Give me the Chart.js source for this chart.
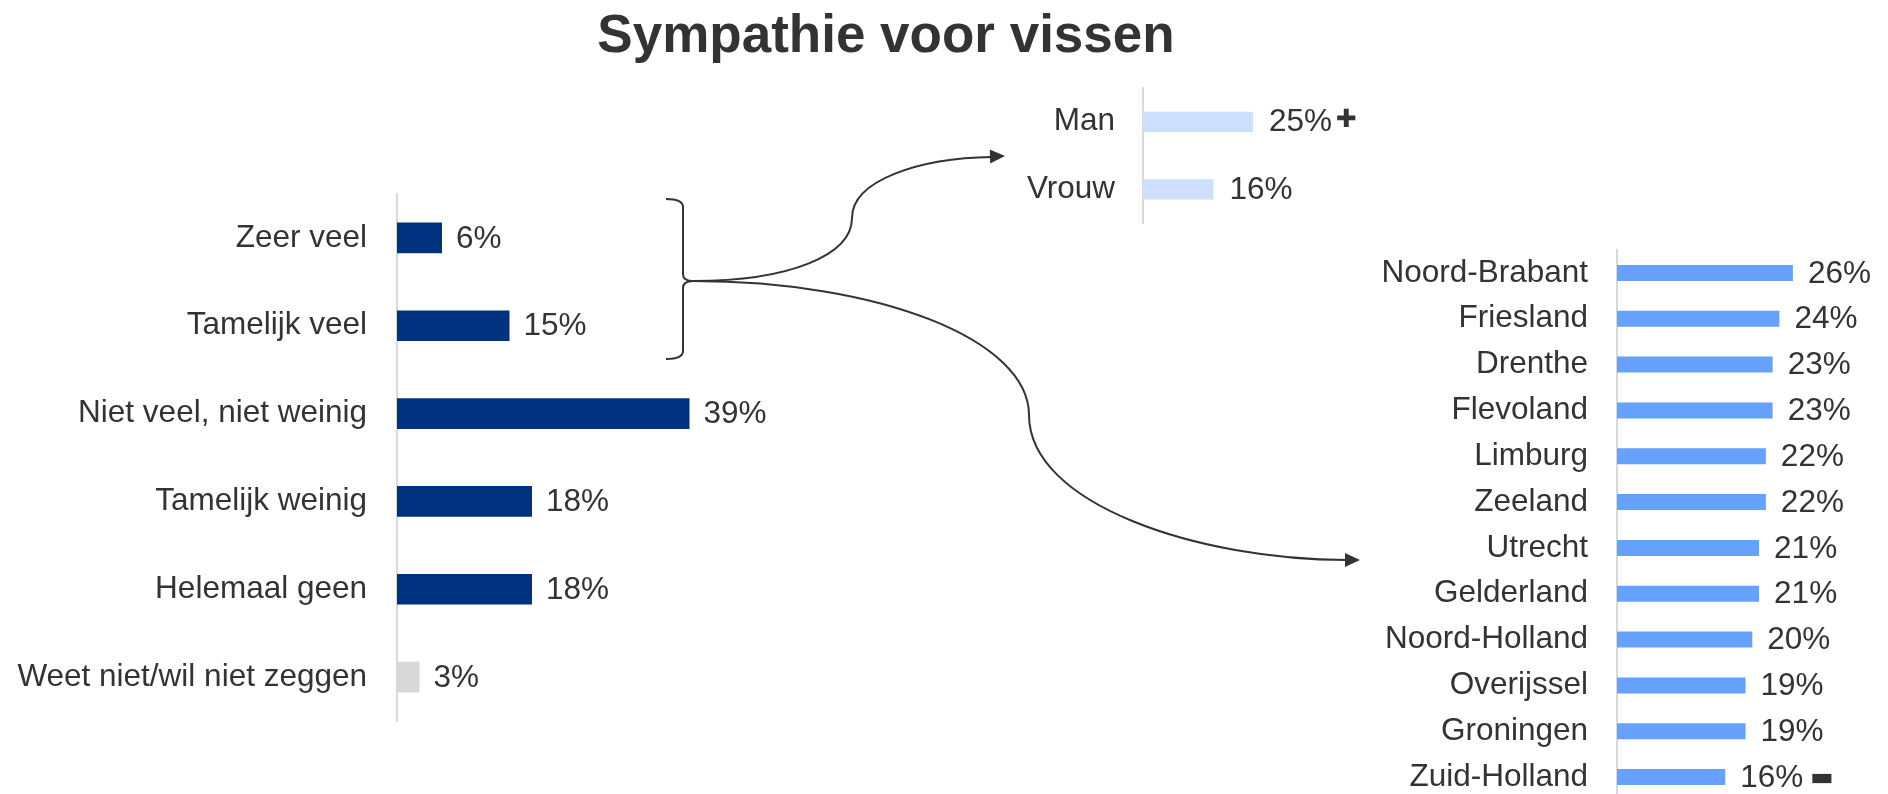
<!DOCTYPE html>
<html>
<head>
<meta charset="utf-8">
<script src="https://cdn.jsdelivr.net/npm/chart.js@4.4.0/dist/chart.umd.min.js"></script>
<style>
  html, body { margin: 0; padding: 0; background: #fff; overflow: hidden; }
  #page { position: relative; width: 1888px; height: 794px; overflow: hidden; }
  canvas { position: absolute; left: 0; top: 0; }
  #title { position: absolute; left: 0; top: 3px; width: 1772px; text-align: center;
           font: bold 53px "Liberation Sans", Arial, sans-serif; color: #333; }
</style>
</head>
<body>
<div id="page">
  <div id="title">Sympathie voor vissen</div>
  <canvas id="mainChart" width="1888" height="794"></canvas>
  <canvas id="genderChart" width="1888" height="794"></canvas>
  <canvas id="regionChart" width="1888" height="860"></canvas>
</div>
<script>
// Data
const mainLabels = ['Zeer veel', 'Tamelijk veel', 'Niet veel, niet weinig', 'Tamelijk weinig', 'Helemaal geen', 'Weet niet/wil niet zeggen']
const mainValues = [6, 15, 39, 18, 18, 3]

const genderLabels = ['Man', 'Vrouw']
const genderValues = [25, 16]
const genderMarks = ['+', '']

const regionLabels = ['Noord-Brabant', 'Friesland', 'Drenthe', 'Flevoland', 'Limburg', 'Zeeland',
  'Utrecht', 'Gelderland', 'Noord-Holland', 'Overijssel', 'Groningen', 'Zuid-Holland']
const regionValues = [26, 24, 23, 23, 22, 22, 21, 21, 20, 19, 19, 16]
const regionMarks = ['', '', '', '', '', '', '', '', '', '', '', '-']

//Colors
const navy = '#00317f'
const mainColors = mainValues.map((v, i) => i === mainValues.length - 1 ? '#d9d9d9' : navy)
const textColor = '#333333'

const labelFont = { family: '"Liberation Sans", Arial, sans-serif', size: 31.5 }

//Value labels at the end of the bars (+ significance marks)
const valueLabels = {
  id: 'valueLabels',
  afterDatasetsDraw(chart, args, opts) {
    const ctx = chart.ctx
    const meta = chart.getDatasetMeta(0)
    const values = chart.data.datasets[0].data
    ctx.save()
    ctx.fillStyle = textColor
    ctx.textBaseline = 'middle'
    ctx.textAlign = 'left'
    meta.data.forEach((bar, i) => {
      const text = values[i] + '%'
      ctx.font = opts.font
      const x = bar.x + opts.gap
      ctx.fillText(text, x, bar.y + 1)
      const mark = opts.marks ? opts.marks[i] : ''
      if (mark === '+') {
        const end = x + ctx.measureText(text).width
        ctx.font = '25px "DejaVu Sans", sans-serif'
        ctx.fillText('\u271A', end + 4, bar.y - 1)
      } else if (mark === '-') {
        const end = x + ctx.measureText(text).width
        ctx.font = '25px "DejaVu Sans", sans-serif'
        ctx.fillText('\u25AC', end + 7, bar.y + 1)
      }
    })
    ctx.restore()
  }
}

//Brace and curved arrows
const connectors = {
  id: 'connectors',
  afterDraw(chart) {
    const ctx = chart.ctx
    ctx.save()
    ctx.strokeStyle = '#333'
    ctx.fillStyle = '#333'
    ctx.lineWidth = 2

    ctx.beginPath()
    ctx.moveTo(666, 199)
    ctx.quadraticCurveTo(683, 199, 683, 207)
    ctx.lineTo(683, 274)
    ctx.quadraticCurveTo(683, 281, 693, 281)
    ctx.quadraticCurveTo(683, 281, 683, 288)
    ctx.lineTo(683, 351)
    ctx.quadraticCurveTo(683, 359, 666, 359)
    ctx.stroke()

    ctx.beginPath()
    ctx.moveTo(693, 281)
    ctx.bezierCurveTo(790, 281, 852, 255, 852, 218)
    ctx.bezierCurveTo(852, 180, 920, 158, 992, 157)
    ctx.stroke()
    arrowHead(ctx, 1005, 156, -0.03)

    ctx.beginPath()
    ctx.moveTo(693, 281)
    ctx.bezierCurveTo(880, 281, 1029, 340, 1029, 415)
    ctx.bezierCurveTo(1029, 505, 1200, 560, 1347, 560)
    ctx.stroke()
    arrowHead(ctx, 1360, 560, 0)
    ctx.restore()
  }
}

function arrowHead(ctx, x, y, angle) {
  ctx.save()
  ctx.translate(x, y)
  ctx.rotate(angle)
  ctx.beginPath()
  ctx.moveTo(0, 0)
  ctx.lineTo(-15, -7)
  ctx.lineTo(-15, 7)
  ctx.closePath()
  ctx.fill()
  ctx.restore()
}

function makeBarChart(id, labels, values, colors, box, marks, extra) {
  const canvas = document.getElementById(id)
  return new Chart(canvas, {
    type: 'bar',
    data: {
      labels: labels,
      datasets: [{
        data: values,
        backgroundColor: colors,
        barPercentage: box.bar,
        categoryPercentage: 1,
      }],
    },
    options: {
      responsive: false,
      animation: false,
      devicePixelRatio: 1,
      indexAxis: 'y',
      layout: {
        padding: {
          left: box.axisX - 400,
          right: canvas.width - box.right,
          top: box.top,
          bottom: canvas.height - box.bottom,
        },
      },
      scales: {
        x: { display: false, min: 0, max: box.max },
        y: {
          afterFit: s => { s.width = 400 },
          grid: { display: false, drawTicks: false },
          border: { display: true, color: '#d9d9d9', width: 2 },
          ticks: { color: textColor, padding: box.pad, autoSkip: false, font: labelFont },
        },
      },
      plugins: {
        legend: { display: false },
        tooltip: { enabled: false },
        valueLabels: { font: labelFont.size + 'px ' + labelFont.family, gap: box.gap, marks: marks },
      },
    },
    plugins: [valueLabels].concat(extra || []),
  })
}

makeBarChart('mainChart', mainLabels, mainValues, mainColors,
  { axisX: 397, right: 697, top: 194, bottom: 721, max: 40, bar: 0.35, pad: 30, gap: 14 },
  null, [connectors])

makeBarChart('genderChart', genderLabels, genderValues, '#cddffd',
  { axisX: 1143, right: 1275, top: 88, bottom: 223, max: 30, bar: 0.3, pad: 28, gap: 16 },
  genderMarks)

makeBarChart('regionChart', regionLabels, regionValues, '#66a1fd',
  { axisX: 1617, right: 1820, top: 250, bottom: 800, max: 30, bar: 0.35, pad: 29, gap: 15 },
  regionMarks)
</script>
</body>
</html>
